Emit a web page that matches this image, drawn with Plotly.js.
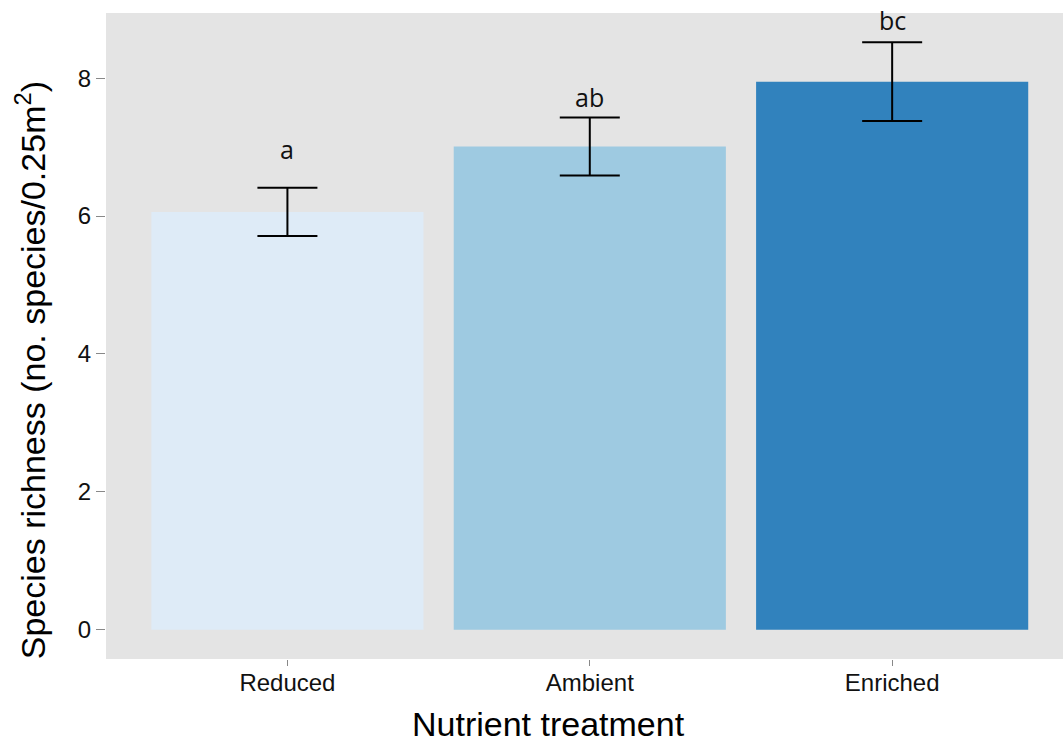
<!DOCTYPE html>
<html>
<head>
<meta charset="utf-8">
<script src="https://cdn.plot.ly/plotly-3.0.1.min.js"></script>
<style>html,body{margin:0;padding:0;background:#fff;}#chart{width:1063px;height:742px;}</style>
</head>
<body>
<div id="chart"></div>
<script>
// Data
var treatments = ['Reduced', 'Ambient', 'Enriched'];
var meanRichness = [6.06, 7.01, 7.95];
var seRichness = [0.35, 0.42, 0.57];
var barColors = ['#DEEBF7', '#9ECAE1', '#3182BD'];
var groupLetters = ['a', 'ab', 'bc'];
var letterHeights = [6.97, 7.73, 8.84];
var yTickValues = [0, 2, 4, 6, 8];

var trace = {
  type: 'bar',
  x: treatments,
  y: meanRichness,
  width: 0.9,
  marker: {color: barColors, line: {width: 0}},
  error_y: {type: 'data', array: seRichness, visible: true, color: '#000000', thickness: 2, width: 30},
  hoverinfo: 'x+y'
};

var annotations = groupLetters.map(function (lab, i) {
  return {
    x: treatments[i], y: letterHeights[i], xref: 'x', yref: 'y',
    text: lab, showarrow: false, xanchor: 'center', yanchor: 'middle',
    font: {family: 'Open Sans', size: 25, color: '#111111'}
  };
});

annotations.push({
  x: 0.462, y: -0.101, xref: 'paper', yref: 'paper',
  text: 'Nutrient treatment', showarrow: false, xanchor: 'center', yanchor: 'middle',
  font: {family: 'Liberation Sans', size: 34, color: '#000000'}
});
annotations.push({
  x: -0.0794, y: 0.447, xref: 'paper', yref: 'paper',
  text: 'Species richness (no. species/0.25m<sup>2</sup>)', showarrow: false,
  textangle: -90, xanchor: 'center', yanchor: 'middle',
  font: {family: 'Liberation Sans', size: 34, color: '#000000'}
});

var layout = {
  width: 1063, height: 742,
  margin: {l: 106, r: 0, t: 13, b: 83, pad: 0},
  paper_bgcolor: '#ffffff',
  plot_bgcolor: '#E4E4E4',
  showlegend: false,
  bargap: 0.1,
  font: {family: 'Liberation Sans', color: '#000000'},
  xaxis: {
    type: 'category',
    range: [-0.6, 2.565],
    showgrid: false, zeroline: false, showline: false,
    ticks: 'outside', ticklen: 6, tickwidth: 1, tickcolor: '#888888',
    ticklabelstandoff: -4,
    tickfont: {family: 'Liberation Sans', size: 24, color: '#111111'},
    fixedrange: true
  },
  yaxis: {
    range: [-0.426, 8.946],
    tickvals: yTickValues,
    ticktext: yTickValues.map(String),
    showgrid: false, zeroline: false, showline: false,
    ticks: 'outside', ticklen: 9, tickwidth: 1, tickcolor: '#888888',
    tickfont: {family: 'Liberation Sans', size: 24, color: '#111111'},
    fixedrange: true
  },
  annotations: annotations
};

Plotly.newPlot('chart', [trace], layout, {displayModeBar: false, staticPlot: true});
</script>
</body>
</html>
